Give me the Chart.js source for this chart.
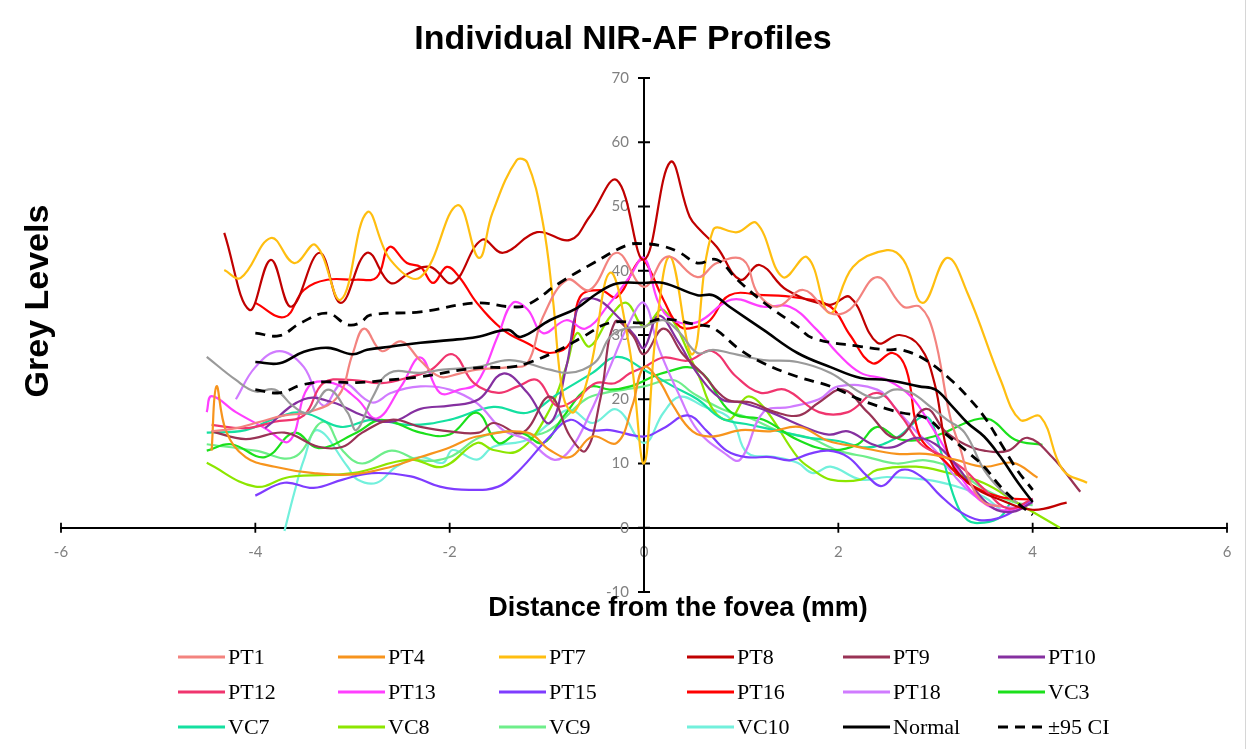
<!DOCTYPE html>
<html><head><meta charset="utf-8">
<script src="https://cdn.jsdelivr.net/npm/chart.js@4.4.1/dist/chart.umd.min.js"></script>
<style>
html,body{margin:0;padding:0;background:#fff;}
#wrap{position:relative;width:1250px;height:749px;overflow:hidden;background:#fff;}
#c{position:absolute;left:0;top:0;}
.t{position:absolute;font-family:"Liberation Sans",Arial,sans-serif;font-weight:bold;color:#000;white-space:nowrap;}
#title{left:0;width:1246px;top:17px;text-align:center;font-size:34px;line-height:40px;}
#ytitle{left:-114px;top:281px;width:300px;height:40px;line-height:40px;text-align:center;font-size:34px;transform:rotate(-90deg);}
#xtitle{left:378px;width:600px;top:591px;text-align:center;font-size:27px;line-height:32px;}
#legend{position:absolute;left:0;top:0;width:1250px;height:749px;pointer-events:none;}
.li{position:absolute;display:flex;align-items:center;height:26px;font-family:"Liberation Serif","Times New Roman",serif;font-size:22px;color:#000;white-space:nowrap;}
.li svg{margin-right:3px;}
#edge{position:absolute;left:1245px;top:0;width:1px;height:749px;background:#d6d6d6;}
</style></head>
<body><div id="wrap"><canvas id="c" width="1250" height="749"></canvas>
<div id="title" class="t">Individual NIR-AF Profiles</div>
<div id="ytitle" class="t">Grey Levels</div>
<div id="xtitle" class="t">Distance from the fovea (mm)</div>
<div id="legend"></div><div id="edge"></div></div>
<script>
// ---- Axis ticks ----
const xTicks = [-6, -4, -2, 0, 2, 4, 6];
const yTicks = [-10, 0, 10, 20, 30, 40, 50, 60, 70];

// ---- Series: [distance (mm), grey level] ----
const PT1 = [[-4.45,15],[-4.2,15.5],[-3.95,16.5],[-3.7,17.5],[-3.45,18],[-3.15,20.4],[-3.0,27],[-2.88,31],[-2.7,27.5],[-2.5,29],[-2.3,26],[-2.1,23.5],[-1.9,24],[-1.72,24.6],[-1.38,25],[-1.2,25.6],[-1.04,32.8],[-0.79,38.6],[-0.56,37],[-0.28,42.8],[0,37.5],[0.24,42.2],[0.55,39],[0.75,41.2],[1.02,41.7],[1.17,36.5],[1.37,34.4],[1.64,37],[1.92,33.4],[2.12,34],[2.4,39],[2.67,34.4],[2.84,34.4],[2.98,30.3],[3.15,17.3],[3.26,12.1],[3.36,7],[3.5,3.9],[3.67,3.3]];
const PT4 = [[-4.45,12],[-4.4,22],[-4.3,15],[-4.1,11],[-3.8,9.5],[-3.4,8.5],[-3.0,8.3],[-2.6,9.5],[-2.3,11],[-2.0,12.5],[-1.72,14.2],[-1.2,14.8],[-0.97,12.1],[-0.76,11],[-0.53,14.2],[-0.28,13.2],[-0.12,19],[0,25],[0.15,23],[0.3,19],[0.5,15],[0.7,14.2],[1.0,15.2],[1.3,15],[1.6,15.7],[1.9,13.5],[2.2,12.6],[2.6,11.5],[2.9,11.5],[3.2,10.6],[3.5,9.5],[3.8,10.1],[4.05,7.8]];
const PT7 = [[-4.32,40.1],[-4.15,38.9],[-3.84,45.1],[-3.6,41.2],[-3.38,44],[-3.12,35.5],[-2.85,49.1],[-2.61,41.7],[-2.3,39],[-1.92,50.2],[-1.7,42],[-1.56,49],[-1.31,57.2],[-1.2,56.8],[-1.04,47.4],[-0.94,35.9],[-0.83,20.4],[-0.72,18],[-0.55,25],[-0.35,39.7],[-0.15,28],[0,10],[0.12,30],[0.27,42.2],[0.5,27],[0.71,46.3],[0.96,46],[1.16,47.4],[1.43,39],[1.68,42.1],[1.91,33.4],[2.15,40.6],[2.5,43.2],[2.67,41.7],[2.87,35],[3.12,42],[3.33,36.5],[3.67,23],[3.87,16.8],[4.08,17.3],[4.31,9],[4.56,7]];
const PT8 = [[-4.32,45.9],[-4.06,33.9],[-3.84,41.7],[-3.63,34.4],[-3.34,42.8],[-3.12,35],[-2.85,42.8],[-2.61,38.1],[-2.41,39.7],[-2.2,40.6],[-1.97,38.1],[-1.67,44.8],[-1.45,42.8],[-1.1,46],[-0.76,44.8],[-0.56,48.4],[-0.28,54.1],[0,41.7],[0.27,56.9],[0.47,48.4],[0.58,46.3],[0.75,43.7],[0.99,38.6],[1.19,40.9],[1.47,37],[1.91,34.7],[2.12,35.9],[2.4,28.8],[2.63,30],[2.84,28.2],[2.99,22.5],[3.15,10.6],[3.39,6.4],[3.66,4.4],[4.0,2.8],[4.35,3.9]];
const PT9 = [[-4.45,15],[-4.1,13.8],[-3.7,14.8],[-3.35,12.6],[-3.1,12.6],[-2.9,14.8],[-2.6,16.8],[-2.3,15.7],[-2.0,15],[-1.7,14.8],[-1.55,16.3],[-1.25,14.8],[-0.97,20.4],[-0.76,14.2],[-0.6,12],[-0.45,20],[-0.3,32],[-0.12,30],[0,27],[0.2,31],[0.4,27],[0.6,24],[0.85,20],[1.1,19.5],[1.35,18],[1.6,17.5],[1.8,19.5],[2.05,21.5],[2.3,18],[2.6,14],[2.9,18.5],[3.1,15],[3.3,13],[3.5,12],[3.75,12],[3.95,14],[4.2,11],[4.49,5.6]];
const PT10 = [[-3.9,15.5],[-3.5,20],[-3.2,19.5],[-2.9,17.5],[-2.6,16.5],[-2.3,18.5],[-2.0,19],[-1.7,20],[-1.45,24],[-1.2,21],[-0.97,16.3],[-0.8,25],[-0.66,35],[-0.48,35.5],[-0.28,33],[-0.1,30],[0,28],[0.15,33],[0.35,29],[0.55,24],[0.8,20],[1.0,19.5],[1.3,18],[1.6,16],[1.9,14.5],[2.1,15],[2.35,13],[2.55,12.5],[2.8,14],[3.0,13],[3.2,10],[3.4,6],[3.6,3],[3.8,2.5],[4.0,4]];
const PT12 = [[-4.45,16],[-4.1,15.5],[-3.8,16.5],[-3.5,17.5],[-3.3,22.5],[-3.0,23],[-2.7,22.5],[-2.4,23.5],[-2.2,24.5],[-1.97,27],[-1.75,22.5],[-1.5,21],[-1.3,22],[-1.1,23],[-0.9,19],[-0.7,20],[-0.5,22.5],[-0.3,22.5],[-0.15,24],[0,25],[0.2,26.5],[0.45,26],[0.7,27.5],[0.95,23.5],[1.2,21],[1.45,21.5],[1.8,18],[2.1,18],[2.4,21],[2.65,17.3],[2.85,13],[3.1,11],[3.3,9],[3.5,6],[3.75,3],[4.0,4.5]];
const PT13 = [[-4.5,18],[-4.45,20.5],[-4.2,18],[-3.9,15.5],[-3.65,13.5],[-3.45,22],[-3.2,22.5],[-2.95,20],[-2.75,17],[-2.5,22],[-2.3,26.5],[-2.1,21],[-1.9,21.5],[-1.72,22.5],[-1.5,30],[-1.35,35],[-1.2,34],[-1.04,30.3],[-0.8,32.3],[-0.6,31],[-0.35,35],[-0.15,39],[0,42],[0.15,35],[0.3,32.3],[0.55,32],[0.9,35.5],[1.23,34.4],[1.5,34.4],[1.78,30.8],[1.99,27.2],[2.23,24.1],[2.5,23],[2.75,20.4],[2.95,16],[3.15,11],[3.35,6],[3.6,3],[3.85,3],[4.0,4]];
const PT15 = [[-4.0,5],[-3.7,7],[-3.4,6.2],[-3.1,7.5],[-2.8,8.5],[-2.4,8],[-2.1,6.4],[-1.8,5.9],[-1.5,6.4],[-1.28,9],[-0.97,14.2],[-0.76,16.8],[-0.56,15.2],[-0.35,15.2],[0,14.2],[0.2,15.5],[0.45,17.5],[0.65,15],[0.85,12],[1.05,11],[1.3,11],[1.5,10.5],[1.7,11.5],[1.9,12],[2.1,11],[2.3,8],[2.45,6.5],[2.65,9],[2.85,8],[3.05,5],[3.25,2.5],[3.45,1.2],[3.65,1.5],[3.85,3],[4.0,4.5]];
const PT16 = [[-4.0,35],[-3.7,32.8],[-3.5,37],[-3.26,38.6],[-2.96,38.6],[-2.75,39],[-2.62,43.7],[-2.44,41.2],[-2.3,40.6],[-2.17,38.1],[-2.03,40.6],[-1.9,39],[-1.72,35],[-1.45,30.8],[-1.21,28.8],[-0.97,27.2],[-0.76,28.8],[-0.66,35.9],[-0.45,37],[-0.28,35.9],[-0.07,41.2],[0,41.7],[0.2,35.5],[0.37,31.3],[0.55,31.3],[0.68,32.3],[0.88,36.2],[1.23,36.2],[1.58,35.8],[1.92,34.4],[2.12,30],[2.35,25.6],[2.56,27.2],[2.7,24.6],[2.84,14.2],[3.08,10.6],[3.33,7],[3.66,4.8],[4.0,4.4]];
const PT18 = [[-4.2,20],[-4.0,25],[-3.75,27.5],[-3.5,25],[-3.3,19],[-3.1,22.5],[-2.8,19.5],[-2.6,21],[-2.3,22],[-2.0,21.5],[-1.72,19.4],[-1.45,15.2],[-1.2,13.7],[-0.93,10.6],[-0.76,12.1],[-0.55,18],[-0.35,25],[-0.15,32],[0,35],[0.15,28],[0.37,20.4],[0.55,15.2],[0.82,11.7],[0.99,10.6],[1.23,18],[1.5,18.8],[1.8,20],[2.0,22],[2.4,21.5],[2.6,18.4],[2.8,15],[3.0,12],[3.2,8],[3.4,5],[3.6,3.5],[3.9,3]];
const VC3 = [[-4.5,12],[-4.25,13],[-3.9,11],[-3.6,14.8],[-3.35,12.4],[-2.96,14.8],[-2.7,16.8],[-2.3,14.8],[-2.0,14.5],[-1.72,17.9],[-1.5,13.2],[-1.28,14.8],[-1.04,13.2],[-0.83,17.3],[-0.56,21.9],[-0.35,21.5],[-0.14,22],[0.2,24.1],[0.55,24.6],[0.9,17.9],[1.23,16.8],[1.58,13.7],[1.92,12.1],[2.2,13],[2.4,15.7],[2.65,13.7],[2.98,14.2],[3.4,16.8],[3.57,16.8],[3.82,13.7],[4.1,12.9]];
const VC7 = [[-4.5,14.8],[-4.1,15.2],[-3.75,17.3],[-3.5,17.9],[-3.12,15.7],[-2.8,16.8],[-2.4,16],[-2.0,16.8],[-1.55,18.8],[-1.2,17.9],[-0.87,21],[-0.53,24.1],[-0.28,26.6],[0,24.6],[0.3,22],[0.55,20],[0.8,17],[1.1,16],[1.4,15],[1.7,14],[2.0,13.5],[2.3,12.5],[2.6,14],[2.9,17.3],[3.05,12.1],[3.2,4.4],[3.33,1.2],[3.5,0.8],[3.67,1.7],[3.77,3.9]];
const VC8 = [[-4.5,10.1],[-4.0,6.4],[-3.65,7.9],[-3.0,8.5],[-2.41,10.6],[-2.07,9.5],[-1.72,13.2],[-1.55,12.1],[-1.28,12.1],[-0.97,18.4],[-0.79,25.6],[-0.69,30.3],[-0.56,28.2],[-0.35,32.8],[-0.18,35],[0,31.3],[0.2,33.9],[0.55,24.1],[0.71,18.4],[0.88,16.8],[1.06,20.4],[1.23,18.8],[1.58,11],[1.74,9],[1.92,7.5],[2.23,7.5],[2.4,9],[2.8,9.5],[3.14,8.5],[3.49,7],[3.84,3.9],[4.28,0]];
const VC9 = [[-4.5,13],[-4.0,12],[-3.6,11],[-3.3,16.5],[-3.1,12],[-2.9,10],[-2.6,12],[-2.3,10.5],[-2.0,11],[-1.7,14],[-1.4,15],[-1.1,14.5],[-0.9,16],[-0.6,20],[-0.4,21],[-0.2,21.5],[0,22],[0.3,23],[0.5,21],[0.8,18.5],[1.1,17],[1.4,15],[1.7,14],[2.0,12],[2.3,11],[2.6,10],[2.9,10.5],[3.2,9],[3.5,6],[3.8,4],[4.0,3.5]];
const VC10 = [[-3.7,-0.5],[-3.6,5.4],[-3.5,10.6],[-3.36,15.2],[-3.05,9.5],[-2.95,7.5],[-2.75,7],[-2.55,9.5],[-2.3,11],[-2.07,10.1],[-1.97,12.1],[-1.72,10.6],[-1.55,12.6],[-1.2,13.7],[-0.97,16.3],[-0.76,18.4],[-0.53,16.3],[-0.28,18.4],[0,13.2],[0.2,17.9],[0.37,20.4],[0.6,19],[0.9,16.8],[1.06,11.7],[1.35,11],[1.58,10.1],[1.74,8.5],[1.92,9.5],[2.23,7.5],[2.5,7.9],[2.9,7.5],[3.2,6.5],[3.5,4.8],[3.67,2.8]];
const GREY = [[-4.5,26.6],[-4.2,23],[-4.0,21.2],[-3.8,21.5],[-3.6,18.8],[-3.45,17.9],[-3.25,21.5],[-3.05,17.9],[-2.96,15.2],[-2.79,20.4],[-2.62,24.1],[-2.3,24.1],[-2.07,24.6],[-1.72,25],[-1.38,26.1],[-0.97,24.6],[-0.79,24.1],[-0.63,24.6],[-0.48,26.1],[-0.35,29.7],[-0.17,31.1],[0,31.3],[0.2,32.3],[0.37,30.3],[0.55,27.2],[0.71,27.7],[0.88,27.2],[1.06,26.6],[1.23,26.1],[1.58,25.8],[1.92,24.1],[2.23,21],[2.4,20.2],[2.57,21.5],[2.75,21],[2.95,18.8],[3.12,16.8],[3.3,14.8],[3.5,9],[3.67,5.9],[3.84,3.9]];
const NORMAL = [[-4.0,25.8],[-3.75,25.6],[-3.5,27.4],[-3.25,28],[-3.0,27],[-2.85,27.7],[-2.6,28.2],[-2.3,28.8],[-2.0,29.2],[-1.72,29.7],[-1.4,30.8],[-1.27,29.7],[-0.97,32.3],[-0.69,34.2],[-0.48,36.5],[-0.28,38],[0,38.1],[0.2,38.1],[0.55,36.2],[0.71,36.2],[0.88,34.4],[1.23,30.8],[1.58,27.2],[1.92,25],[2.23,23.3],[2.5,23],[2.83,22],[3.0,21.5],[3.16,19.1],[3.33,16.3],[3.5,14.2],[3.67,11],[3.85,7],[4.0,4]];
const CI_UPPER = [[-4.0,30.3],[-3.75,29.9],[-3.53,31.9],[-3.26,33.4],[-3.05,31.6],[-2.92,31.9],[-2.82,33.1],[-2.3,33.6],[-1.72,35],[-1.38,34.4],[-1.2,34.7],[-0.87,38.1],[-0.52,41.2],[-0.17,44],[0,44.2],[0.2,43.8],[0.37,42.8],[0.55,41.2],[0.75,41.7],[0.96,38.6],[1.23,35.1],[1.58,31.3],[1.74,29.5],[2.23,28.2],[2.5,27.7],[2.65,27.7],[2.9,26.1],[3.16,23],[3.33,20.4],[3.5,17.3],[3.67,13.2],[3.84,9],[4.0,5.9]];
const CI_LOWER = [[-4.0,21.5],[-3.75,21],[-3.53,22.2],[-3.3,22.7],[-2.96,22.6],[-2.62,23],[-2.3,23.5],[-1.72,24.9],[-1.38,25],[-1.2,25.6],[-0.87,27.7],[-0.63,29.7],[-0.35,31.9],[0,31.9],[0.2,32.5],[0.55,31.6],[0.71,31.1],[0.99,27.7],[1.23,25.6],[1.58,23.5],[1.92,22],[2.23,19.9],[2.5,18.5],[2.65,17.9],[2.9,17.1],[3.08,14.9],[3.33,11.8],[3.5,9.5],[3.67,6.4],[3.84,3.9],[4.0,2]];

const seriesNames = ['PT1','PT4','PT7','PT8','PT9','PT10','PT12','PT13','PT15','PT16','PT18','VC3','VC7','VC8','VC9','VC10'];
const seriesData = [PT1,PT4,PT7,PT8,PT9,PT10,PT12,PT13,PT15,PT16,PT18,VC3,VC7,VC8,VC9,VC10];
const seriesColors = ['#F3837F','#F7941D','#FFBE10','#C00000','#993355','#8530A0','#F0356E','#FF3FFF','#7F3CFF','#FF0000','#D07BFF','#1BE01B','#14E0A0','#8CE600','#6EEE8A','#72F0DC'];

const toXY = arr => arr.map(p => ({x: p[0], y: p[1]}));

const datasets = seriesNames.map((n, i) => ({
  label: n, data: toXY(seriesData[i]), borderColor: seriesColors[i], borderWidth: 2.2,
  order: 10 + i, inLegend: true
}));
datasets.push({label: 'Grey', data: toXY(GREY), borderColor: '#9a9a9a', borderWidth: 2.2, order: 5, inLegend: false});
datasets.push({label: 'Normal', data: toXY(NORMAL), borderColor: '#000', borderWidth: 2.6, order: 0, inLegend: true});
datasets.push({label: '\u00B195 CI', data: toXY(CI_UPPER), borderColor: '#000', borderWidth: 2.8, borderDash: [10, 7], order: 1, inLegend: true});
datasets.push({label: '\u00B195 CI lower', data: toXY(CI_LOWER), borderColor: '#000', borderWidth: 2.8, borderDash: [10, 7], order: 1, inLegend: false});

const crossTicks = {
  id: 'crossTicks',
  beforeDatasetsDraw(chart) {
    const {ctx, scales: {x, y}} = chart;
    const x0 = x.getPixelForValue(0), y0 = y.getPixelForValue(0);
    ctx.save();
    ctx.strokeStyle = '#000'; ctx.lineWidth = 1.8;
    ctx.beginPath();
    xTicks.forEach(v => { const px = x.getPixelForValue(v); ctx.moveTo(px, y0 - 5); ctx.lineTo(px, y0 + 5); });
    yTicks.forEach(v => { const py = y.getPixelForValue(v); ctx.moveTo(x0 - 6, py); ctx.lineTo(x0 + 6, py); });
    ctx.stroke();
    ctx.restore();
  }
};

const tickFont = {family: 'Lato, "Open Sans", sans-serif', size: 15};
const chart = new Chart(document.getElementById('c'), {
  type: 'line',
  data: {datasets},
  options: {
    responsive: false, animation: false, devicePixelRatio: 1,
    layout: {padding: {left: 61, right: 23, top: 78, bottom: 157}},
    elements: {point: {radius: 0, hoverRadius: 0}, line: {tension: 0.4, fill: false}},
    plugins: {legend: {display: false}, tooltip: {enabled: false}, title: {display: false}},
    scales: {
      x: {
        type: 'linear', min: -6, max: 6, position: {y: 0},
        afterBuildTicks: s => { s.ticks = xTicks.map(v => ({value: v})); },
        ticks: {color: '#808080', font: tickFont, padding: 15, maxRotation: 0, autoSkip: false},
        grid: {display: true, drawOnChartArea: false, drawTicks: false},
        border: {display: true, color: '#000', width: 2}
      },
      y: {
        type: 'linear', min: -10, max: 70, position: 'center',
        afterBuildTicks: s => { s.ticks = yTicks.map(v => ({value: v})); },
        ticks: {color: '#808080', font: tickFont, padding: 15, autoSkip: false},
        grid: {display: true, drawOnChartArea: false, drawTicks: false},
        border: {display: true, color: '#000', width: 2}
      }
    }
  },
  plugins: [crossTicks]
});

// ---- HTML legend built from the chart's datasets ----
const colX = [178, 338, 499, 687, 843, 998];
const rowY = [657, 692, 727];
const legendEl = document.getElementById('legend');
chart.data.datasets.filter(d => d.inLegend).forEach((d, i) => {
  const c = i % 6, r = Math.floor(i / 6);
  const item = document.createElement('div');
  item.className = 'li';
  item.style.left = colX[c] + 'px';
  item.style.top = (rowY[r] - 13) + 'px';
  const dash = d.borderDash ? ' stroke-dasharray="10,7"' : '';
  item.innerHTML = '<svg width="47" height="6"><line x1="0" y1="3" x2="47" y2="3" stroke="' + d.borderColor + '" stroke-width="3"' + dash + '/></svg><span>' + d.label + '</span>';
  legendEl.appendChild(item);
});
</script>
</body></html>
